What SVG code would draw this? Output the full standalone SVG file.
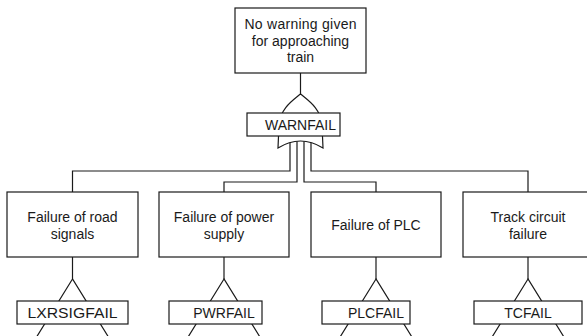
<svg xmlns="http://www.w3.org/2000/svg" width="587" height="336" viewBox="0 0 587 336">
<style>
.box{fill:#fff;stroke:#1a1a1a;stroke-width:1.2}
.ln{fill:none;stroke:#1a1a1a;stroke-width:1.2}
.t{font-family:"Liberation Sans",Arial,sans-serif;font-size:14px;fill:#1a1a1a;text-anchor:middle}
</style>
<rect width="587" height="336" fill="#fff"/>
<g id="connectors" class="ln">
<line x1="300.5" y1="73" x2="300.5" y2="95"/>
<polyline points="290,142.5 290,171 72.5,171 72.5,192"/>
<polyline points="297,141.2 297,182 224,182 224,192"/>
<polyline points="304,141.2 304,182 376,182 376,192"/>
<polyline points="311,142.5 311,171 528,171 528,192"/>
<line x1="72.5" y1="257" x2="72.5" y2="279"/>
<line x1="224" y1="257" x2="224" y2="279"/>
<line x1="376" y1="257" x2="376" y2="279"/>
<line x1="528" y1="257" x2="528" y2="279"/>
</g>
<g id="top">
<rect class="box" x="235" y="8" width="131" height="65"/>
<text class="t" x="300.5" y="29" textLength="112">No warning given</text>
<text class="t" x="300.5" y="45.5">for approaching</text>
<text class="t" x="300.5" y="62">train</text>
</g>
<g id="warnfail">
<path class="box" d="M300.5,94 C292,101 280,109 279,125 L278,148 Q300.5,134 323,148 L322,125 C321,109 309,101 300.5,94 Z"/>
<rect class="box" x="247" y="113" width="93" height="23"/>
<text class="t" x="300.5" y="130">WARNFAIL</text>
</g>
<g id="road">
<rect class="box" x="7" y="192" width="131" height="65"/>
<text class="t" x="72.5" y="222">Failure of road</text>
<text class="t" x="72.5" y="238.5">signals</text>
</g>
<g id="power">
<rect class="box" x="159" y="192" width="130" height="65"/>
<text class="t" x="224" y="222">Failure of power</text>
<text class="t" x="224" y="238.5">supply</text>
</g>
<g id="plc">
<rect class="box" x="311" y="192" width="130" height="65"/>
<text class="t" x="376" y="229.5">Failure of PLC</text>
</g>
<g id="track">
<rect class="box" x="463" y="192" width="130" height="65"/>
<text class="t" x="528" y="222">Track circuit</text>
<text class="t" x="528" y="238.5">failure</text>
</g>
<g id="lxrsigfail">
<polygon class="ln" points="72.5,279 31,346 114,346"/>
<rect class="box" x="17" y="301" width="111" height="23"/>
<text class="t" x="72.5" y="317.5" textLength="90" lengthAdjust="spacingAndGlyphs">LXRSIGFAIL</text>
</g>
<g id="pwrfail">
<polygon class="ln" points="224,279 182.5,346 265.5,346"/>
<rect class="box" x="169" y="301" width="93" height="23"/>
<text class="t" x="224" y="317.5">PWRFAIL</text>
</g>
<g id="plcfail">
<polygon class="ln" points="376,279 334.5,346 417.5,346"/>
<rect class="box" x="322" y="301" width="88" height="23"/>
<text class="t" x="376" y="317.5">PLCFAIL</text>
</g>
<g id="tcfail">
<polygon class="ln" points="528,279 486.5,346 569.5,346"/>
<rect class="box" x="474" y="301" width="108" height="23"/>
<text class="t" x="528" y="317.5">TCFAIL</text>
</g>
</svg>
